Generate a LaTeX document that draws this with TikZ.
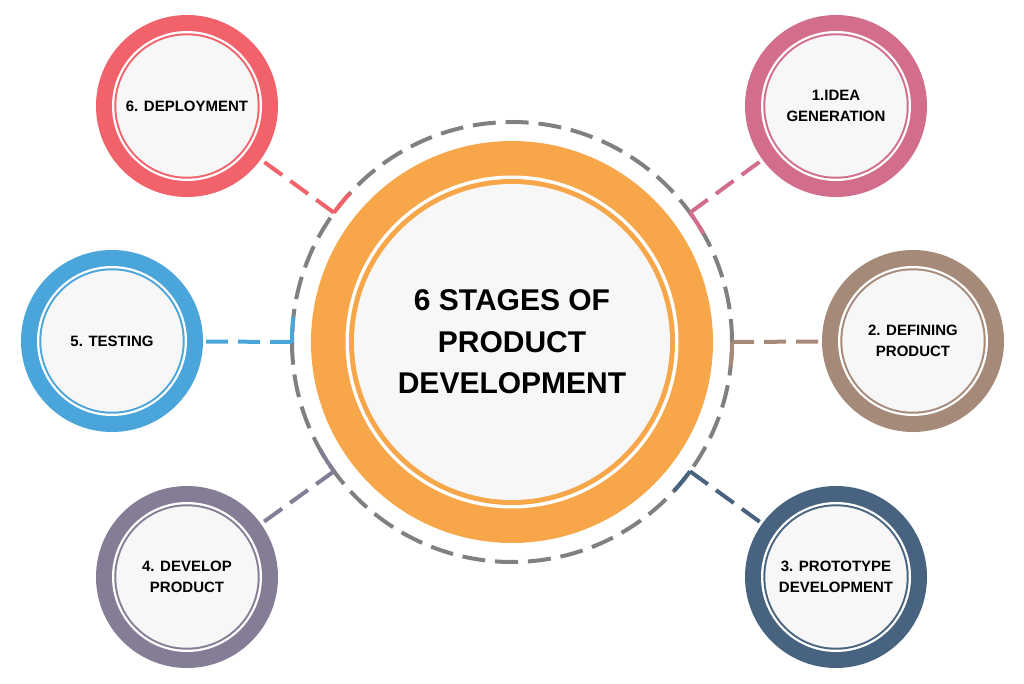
\documentclass[tikz,border=0pt]{standalone}
\usepackage{fontspec}
\setmainfont{Liberation Sans}
\usetikzlibrary{calc}
\definecolor{ideapink}{HTML}{D26E8C}
\definecolor{defbrown}{HTML}{A68A79}
\definecolor{protonavy}{HTML}{48637F}
\definecolor{devpurple}{HTML}{857D96}
\definecolor{testblue}{HTML}{4AA5DA}
\definecolor{deployred}{HTML}{F2626B}
\definecolor{coreorange}{HTML}{F7A64A}
\definecolor{ringgray}{HTML}{808080}
\definecolor{paper}{HTML}{F7F7F7}
\tikzset{
  stage/.style={circle, minimum size=182pt, inner sep=0pt, fill=#1, align=center,
    font=\fontsize{15}{21.5}\selectfont\bfseries,
    path picture={
      \fill[white] (path picture bounding box.center) circle (75);
      \fill[#1] (path picture bounding box.center) circle (72.7);
      \fill[paper] (path picture bounding box.center) circle (70.7);}},
  link/.style={#1, line width=4pt, dash pattern=on 22pt off 10pt},
  tick/.style={#1, line width=4pt},
}
\begin{document}
\begin{tikzpicture}[x=1pt,y=1pt]
\useasboundingbox (0,0) rectangle (1024,683);
\def\rd{220}% radius of the dashed ring
%the dashed ring round the centre
\draw[ringgray, line width=4pt, dash pattern=on 23pt off 9.9pt] (512,341) circle (\rd);
%centre circle
\node[circle, minimum size=402pt, inner sep=0pt, fill=coreorange, align=center,
  font=\fontsize{30}{41.5}\selectfont\bfseries,
  path picture={
    \fill[white] (path picture bounding box.center) circle (166.5);
    \fill[coreorange] (path picture bounding box.center) circle (163);
    \fill[paper] (path picture bounding box.center) circle (158);}]
  (core) at (512,341) {6 STAGES OF\\PRODUCT\\DEVELOPMENT};
%the six stages
\node[stage=ideapink] (idea) at (836,577) {1.IDEA\\GENERATION};
\node[stage=defbrown] (defining) at (913,342) {2. DEFINING\\PRODUCT};
\node[stage=protonavy] (proto) at (836,106) {3. PROTOTYPE\\DEVELOPMENT};
\node[stage=devpurple] (develop) at (187,106) {4. DEVELOP\\PRODUCT};
\node[stage=testblue] (testing) at (112,342) {5. TESTING};
\node[stage=deployred] (deploy) at (187,577) {6. DEPLOYMENT};
%connectors, ending on the dashed ring with a short tick
\foreach \s/\a/\c in {idea/36/ideapink, defining/0/defbrown, proto/-36/protonavy,
    develop/216/devpurple, testing/180/testblue, deploy/144/deployred}{
  \coordinate (e\s) at ([shift={(\a:\rd)}]core.center);
  \draw[link=\c] (e\s) -- (\s);
  \draw[tick=\c] (e\s) arc[start angle=\a, delta angle=-6.5, radius=\rd];
}
\end{tikzpicture}
\end{document}
